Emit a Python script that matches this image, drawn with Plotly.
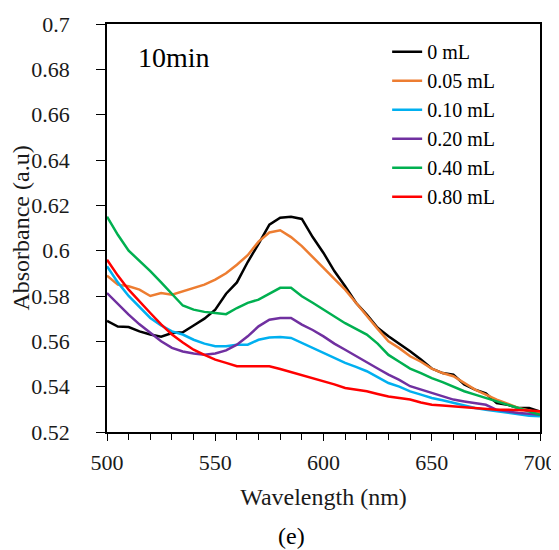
import plotly.graph_objects as go

wavelength = list(range(500, 701, 5))

abs_0mL = [0.569, 0.5665, 0.5663, 0.5644, 0.563, 0.562, 0.5637, 0.564, 0.567, 0.570,
           0.574, 0.581, 0.586, 0.595, 0.603, 0.6115, 0.6145, 0.615, 0.614, 0.606,
           0.599, 0.591, 0.5843, 0.577, 0.5718, 0.566, 0.5622, 0.559, 0.5556, 0.552,
           0.548, 0.546, 0.5453, 0.541, 0.5387, 0.537, 0.5328, 0.532, 0.5306, 0.5306, 0.529]
abs_005mL = [0.589, 0.585, 0.5843, 0.5828, 0.580, 0.5813, 0.5806, 0.582, 0.5835, 0.585,
             0.5872, 0.590, 0.5938, 0.598, 0.604, 0.608, 0.609, 0.606, 0.602, 0.597,
             0.5924, 0.5876, 0.5828, 0.577, 0.571, 0.5655, 0.560, 0.557, 0.5534, 0.551,
             0.548, 0.546, 0.5446, 0.5415, 0.5387, 0.5365, 0.5343, 0.5325, 0.5306, 0.5295, 0.5284]
abs_010mL = [0.5931, 0.586, 0.580, 0.575, 0.5703, 0.567, 0.5644, 0.563, 0.5607, 0.559,
             0.5578, 0.5578, 0.5585, 0.5585, 0.5607, 0.5617, 0.5619, 0.5615, 0.5593, 0.557,
             0.5549, 0.5527, 0.5505, 0.5487, 0.5468, 0.5442, 0.5416, 0.540, 0.5379, 0.5365,
             0.535, 0.534, 0.5328, 0.5317, 0.5306, 0.5298, 0.5291, 0.5284, 0.5276, 0.5272, 0.5269]
abs_020mL = [0.5813, 0.5765, 0.5718, 0.5675, 0.5637, 0.560, 0.5571, 0.5555, 0.5546, 0.5541,
             0.5546, 0.556, 0.5585, 0.5622, 0.5666, 0.5695, 0.5703, 0.5703, 0.5674, 0.565,
             0.5622, 0.559, 0.5563, 0.5535, 0.5505, 0.548, 0.5453, 0.543, 0.5402, 0.5387,
             0.5372, 0.5357, 0.5343, 0.5335, 0.5328, 0.532, 0.5298, 0.529, 0.5284, 0.528, 0.5276]
abs_040mL = [0.615, 0.607, 0.600, 0.5955, 0.591, 0.586, 0.581, 0.5758, 0.574, 0.573,
             0.5725, 0.572, 0.5747, 0.577, 0.5784, 0.581, 0.5836, 0.5836, 0.5799, 0.577,
             0.574, 0.571, 0.568, 0.5655, 0.563, 0.559, 0.554, 0.551, 0.548, 0.546,
             0.5438, 0.542, 0.540, 0.538, 0.5365, 0.535, 0.5335, 0.532, 0.5306, 0.529, 0.5276]
abs_080mL = [0.596, 0.589, 0.5828, 0.5775, 0.5725, 0.5675, 0.563, 0.5595, 0.5563, 0.554,
             0.5519, 0.5505, 0.549, 0.549, 0.549, 0.549, 0.5478, 0.5465, 0.545, 0.5437,
             0.5424, 0.541, 0.5394, 0.5387, 0.538, 0.5368, 0.5357, 0.535, 0.5343, 0.533,
             0.532, 0.5317, 0.5313, 0.531, 0.5306, 0.5302, 0.5298, 0.5298, 0.5298, 0.5295, 0.5291]

series_names = ["0 mL", "0.05 mL", "0.10 mL", "0.20 mL", "0.40 mL", "0.80 mL"]
series_values = [abs_0mL, abs_005mL, abs_010mL, abs_020mL, abs_040mL, abs_080mL]
series_colors = ["#000000", "#ED7D31", "#00B0F0", "#7030A0", "#00B050", "#FF0000"]

y_tick_vals = [0.52, 0.54, 0.56, 0.58, 0.60, 0.62, 0.64, 0.66, 0.68, 0.70]
y_tick_text = ["0.52", "0.54", "0.56", "0.58", "0.6", "0.62", "0.64", "0.66", "0.68", "0.7"]
x_tick_vals = [500, 550, 600, 650, 700]

FONT = "Liberation Serif"

fig = go.Figure()
for name, vals, col in zip(series_names, series_values, series_colors):
    fig.add_trace(go.Scatter(x=wavelength, y=vals, name=name, mode="lines",
                             line=dict(color=col, width=2.5)))

# page body has an 8px default margin, so the figure is sized/offset to compensate
fig.update_layout(
    width=551, height=542,
    margin=dict(l=99, r=19, t=16, b=118),
    paper_bgcolor="white", plot_bgcolor="white",
    font=dict(family=FONT, color="#1a1a1a", size=22),
    showlegend=True,
    legend=dict(x=0.647, y=0.98, xanchor="left", yanchor="top",
                bgcolor="rgba(0,0,0,0)", font=dict(size=20, family=FONT, color="#000"),
                tracegroupgap=0, itemwidth=30),
    xaxis=dict(range=[500, 700], tickvals=x_tick_vals, ticks="outside", ticklen=7,
               tickwidth=1.3, tickcolor="#000", showline=True, linecolor="#000",
               linewidth=1.5, mirror=True, showgrid=False, zeroline=False,
               automargin=False, ticklabelstandoff=3,
               tickfont=dict(size=22, family=FONT),
               minor=dict(dtick=10, ticks="outside", ticklen=6, tickwidth=1.3, tickcolor="#000", showgrid=False),
               title=dict(text="Wavelength (nm)", font=dict(size=24, family=FONT), standoff=14)),
    yaxis=dict(range=[0.52, 0.70], tickvals=y_tick_vals, ticktext=y_tick_text,
               ticks="outside", ticklen=9, tickwidth=1.3, tickcolor="#000",
               showline=True, linecolor="#000", linewidth=1.5, mirror=True,
               showgrid=False, zeroline=False, automargin=False, ticklabelstandoff=22,
               tickfont=dict(size=22, family=FONT),
               title=dict(text="Absorbance (a.u)", font=dict(size=24, family=FONT), standoff=1)),
    annotations=[
        dict(text="10min", x=0.155, y=0.917, xref="paper", yref="paper",
             xanchor="center", yanchor="middle",
             showarrow=False, font=dict(size=28, family=FONT, color="#000")),
        dict(text="(e)", x=0.425, y=-0.255, xref="paper", yref="paper",
             xanchor="center", yanchor="middle",
             showarrow=False, font=dict(size=24, family=FONT, color="#000")),
    ],
)

fig.write_html("out.html")
